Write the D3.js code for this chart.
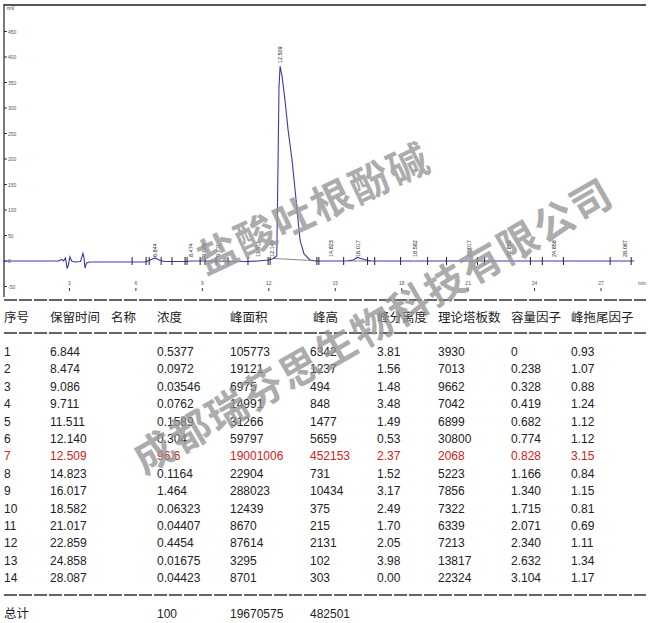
<!DOCTYPE html>
<html><head><meta charset="utf-8">
<script src="https://cdn.jsdelivr.net/npm/d3@7"></script>
<style>body{margin:0;background:#fff}svg{display:block}</style>
</head><body>
<svg id="c" width="650" height="623"></svg>
<script>
// ---- chromatogram data (time in min, signal in mV) ----
const traceTime = [0,2.5,2.66,2.74,2.82,2.9,2.95,3.02,3.1,3.25,3.5,3.61,3.66,3.7,3.77,3.9,5.0,6.4,6.6,6.86,7.1,7.3,8.2,8.5,9.5,11.0,11.5,12.0,12.2,12.36,12.42,12.46,12.509,12.6,12.73,12.87,13.05,13.23,13.41,13.59,13.86,14.1,15.5,15.8,16.0,16.3,16.6,28.5];
const traceSignal = [0,0,3,0,6,-15,-8,8,0,-2,-1,15,6,-14,-4,-2,-2,-2,1,6,1,-1,-1,0,0,-1,0,2,5,10,200,340,382,362,316,257,198,120,41,14,2,0,0,2,7,3,0,0];
const baseStart = [[12.2,5],[15.6,0]];
const baseEnd = [[13.9,1],[16.6,0]];
const markTimes = [5.83,6.46,6.6,7.14,7.63,8.22,8.31,8.9,9.12,9.62,10.16,11.06,11.97,12.06,14.17,14.26,15.38,16.46,16.78,17.95,19.17,20.02,21.42,21.74,23.81,24.35,25.3,27.41,28.36];
const xTicks = [3,6,9,12,15,18,21,24,27];
const yTicks = [-50,0,50,100,150,200,250,300,350,400,450];

// ---- result table ----
const headers = ["序号","保留时间","名称","浓度","峰面积","峰高","峰分离度","理论塔板数","容量因子","峰拖尾因子"];
const peakNo = ["1","2","3","4","5","6","7","8","9","10","11","12","13","14"];
const retTime = [6.844,8.474,9.086,9.711,11.511,12.140,12.509,14.823,16.017,18.582,21.017,22.859,24.858,28.087];
const conc = ["0.5377","0.0972","0.03546","0.0762","0.1589","0.304","96.6","0.1164","1.464","0.06323","0.04407","0.4454","0.01675","0.04423"];
const area = ["105773","19121","6975","14991","31266","59797","19001006","22904","288023","12439","8670","87614","3295","8701"];
const height = ["6342","1237","494","848","1477","5659","452153","731","10434","375","215","2131","102","303"];
const resolution = ["3.81","1.56","1.48","3.48","1.49","0.53","2.37","1.52","3.17","2.49","1.70","2.05","3.98","0.00"];
const plates = ["3930","7013","9662","7042","6899","30800","2068","5223","7856","7322","6339","7213","13817","22324"];
const capacity = ["0","0.238","0.328","0.419","0.682","0.774","0.828","1.166","1.340","1.715","2.071","2.340","2.632","3.104"];
const tailing = ["0.93","1.07","0.88","1.24","1.12","1.12","3.15","0.84","1.15","0.81","0.69","1.11","1.34","1.17"];
const totals = ["总计","","","100","19670575","482501"];
const watermark = ["盐酸吐根酚碱","成都瑞芬思生物科技有限公司"];

const svg = d3.select("#c");
const x = d3.scaleLinear().domain([0,28.5]).range([3,3+28.5*22.15]);
const y = d3.scaleLinear().domain([0,450]).range([261,261-9*25.5]);

// frame
svg.append("line").attr("x1",4).attr("x2",646).attr("y1",5).attr("y2",5).attr("stroke","#555").attr("stroke-width",2);
svg.append("line").attr("x1",4).attr("x2",4).attr("y1",4).attr("y2",297).attr("stroke","#333").attr("stroke-width",1.3);
svg.append("text").attr("x",7).attr("y",10).attr("font-size",5).attr("font-family","Liberation Sans").attr("fill","#333").text("mV");

// y ticks
const yg = svg.append("g");
yTicks.forEach(v=>{
  yg.append("line").attr("x1",4).attr("x2",7).attr("y1",y(v)).attr("y2",y(v)).attr("stroke","#333");
  yg.append("text").attr("x",8).attr("y",y(v)+2).attr("font-size",5).attr("font-family","Liberation Sans").attr("fill","#555").text(v);
});
// x ticks
xTicks.forEach(t=>{
  svg.append("text").attr("x",x(t)).attr("y",285).attr("text-anchor","middle").attr("font-size",5).attr("font-family","Liberation Sans").attr("fill","#555").text(t);
  svg.append("line").attr("x1",x(t)).attr("x2",x(t)).attr("y1",288).attr("y2",291).attr("stroke","#333");
});
svg.append("text").attr("x",638).attr("y",285).attr("font-size",5).attr("font-family","Liberation Sans").attr("fill","#555").text("min");

// baselines (grey)
baseStart.forEach((s,i)=>{
  svg.append("line").attr("x1",x(s[0])).attr("y1",y(s[1])).attr("x2",x(baseEnd[i][0])).attr("y2",y(baseEnd[i][1])).attr("stroke","#888").attr("stroke-width",1);
});
// trace
const pts = traceTime.map((t,i)=>[t,traceSignal[i]]);
svg.append("path").datum(pts).attr("fill","none").attr("stroke","#3a3aae").attr("stroke-width",1.1)
  .attr("d",d3.line().x(d=>x(d[0])).y(d=>y(d[1])));
// integration marks
markTimes.forEach(t=>{
  svg.append("line").attr("x1",x(t)).attr("x2",x(t)).attr("y1",257).attr("y2",265).attr("stroke","#222").attr("stroke-width",1);
});
// peak labels
retTime.forEach((t,i)=>{
  const py = i===6 ? y(382)-3 : 257;
  svg.append("text").attr("transform",`translate(${x(t)+2},${py}) rotate(-90)`)
    .attr("font-size",5.5).attr("font-family","Liberation Sans").attr("fill","#222").text(t.toFixed(3));
});

// table
const colX = [4,50,111,157,230,310,377,438,511,571];
function dashed(yy){
  svg.append("line").attr("x1",4).attr("x2",646).attr("y1",yy).attr("y2",yy).attr("stroke","#333").attr("stroke-width",1.3).attr("stroke-dasharray","13,2");
}
dashed(300); dashed(333); dashed(595);
const cjk = "'Noto Sans CJK SC', sans-serif";
headers.forEach((h,i)=>{
  const hx = i===5 ? 313 : colX[i];
  svg.append("text").attr("x",hx).attr("y",322).attr("font-size",12.5).attr("font-family",cjk).attr("fill","#222").text(h);
});
const cols = [peakNo, retTime.map(d=>d.toFixed(3)), null, conc, area, height, resolution, plates, capacity, tailing];
peakNo.forEach((_,r)=>{
  const yy = 356 + r*17.4;
  cols.forEach((c,ci)=>{
    if(!c) return;
    svg.append("text").attr("x",colX[ci]).attr("y",yy).attr("font-size",12).attr("font-family","Liberation Sans")
      .attr("fill", r===6 ? "#d02020" : "#222").text(c[r]);
  });
});
totals.forEach((v,i)=>{
  if(!v) return;
  svg.append("text").attr("x",colX[i]).attr("y",618).attr("font-size",i===0?12.5:12)
    .attr("font-family",i===0?cjk:"Liberation Sans").attr("fill","#222").text(v);
});

// watermark
[[watermark[0],315,212,-25],[watermark[1],375,329,-30]].forEach(([txt,cx,cy,a])=>{
  svg.append("text").attr("transform",`translate(${cx},${cy}) rotate(${a})`).attr("text-anchor","middle")
    .attr("font-size",40).attr("letter-spacing",2).attr("font-weight",700).attr("font-family",cjk)
    .attr("fill","#969696").attr("opacity",0.78).attr("dominant-baseline","middle").text(txt);
});
</script>
</body></html>
